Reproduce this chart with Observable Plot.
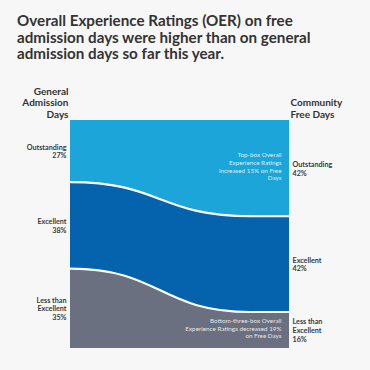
<!DOCTYPE html>
<html>
<head>
<meta charset="utf-8">
<script src="https://cdn.jsdelivr.net/npm/d3@7"></script>
<script src="https://cdn.jsdelivr.net/npm/@observablehq/plot@0.6"></script>
<style>
  html, body { margin: 0; padding: 0; background: #f7f7f7; width: 370px; height: 370px; overflow: hidden; }
  #title { position: absolute; left: 17px; top: 12px; width: 345px; font-family: Lato, sans-serif; font-weight: 700; font-size: 15.2px; line-height: 16.7px; color: #333; }
  #chart { position: absolute; left: 0; top: 80px; }
</style>
</head>
<body>
<div id="title">Overall Experience Ratings (OER) on free admission days were higher than on general admission days so far this year.</div>
<div id="chart"></div>
<script>
const categories = ["Outstanding", "Excellent", "Less than Excellent"];
const generalAdmission = [27, 38, 35];
const communityFree = [42, 42, 16];
const groupLabels = ["General\nAdmission\nDays", "Community\nFree Days"];
const categoryLabels = ["Outstanding", "Excellent", "Less than\nExcellent"];
const colors = ["#1ba5d8", "#0563ad", "#6a7080"];
const notes = ["Top-box Overall\nExperience Ratings\nincreased 15% on Free\nDays", "", "Bottom-three-box Overall\nExperience Ratings decreased 19%\non Free Days"];

// flow layout: left edge (0), end of transition, right edge (1)
const xLeft = 0, xTurn = 0.82, xRight = 1;
const flow = [];
categories.forEach((c, i) => {
  flow.push({cat: c, x: xLeft, v: generalAdmission[i]});
  flow.push({cat: c, x: xTurn, v: communityFree[i]});
  flow.push({cat: c, x: xRight, v: communityFree[i]});
});
const leftRows = categories.map((c, i) => ({cat: c, x: xLeft, v: generalAdmission[i], label: categoryLabels[i] + "\n" + generalAdmission[i] + "%"}));
const rightRows = categories.map((c, i) => ({cat: c, x: xRight, v: communityFree[i], label: categoryLabels[i] + "\n" + communityFree[i] + "%", note: notes[i]}));

const font = "Lato, sans-serif";
const chart = Plot.plot({
  width: 370,
  height: 290,
  marginLeft: 70,
  marginRight: 81,
  marginTop: 40,
  marginBottom: 22,
  style: {background: "transparent", fontFamily: font},
  x: {domain: [0, 1], axis: null},
  y: {domain: [0, 100], reverse: true, axis: null},
  color: {domain: categories, range: colors},
  marks: [
    Plot.areaY(flow, {x: "x", y: "v", fill: "cat", z: "cat", order: categories, curve: "bump-x"}),
    Plot.lineY(flow, Plot.stackY2({x: "x", y: "v", z: "cat", order: categories, curve: "bump-x", stroke: "white", strokeWidth: 2.2,
      filter: d => d.cat !== categories[categories.length - 1]})),
    Plot.text(leftRows, Plot.stackY({x: "x", y: "v", z: "cat", order: categories, text: "label", textAnchor: "end", dx: -4,
      fontSize: 7.2, fontWeight: 700, fill: "#3a3a3a", lineHeight: 1.22})),
    Plot.text(rightRows, Plot.stackY({x: "x", y: "v", z: "cat", order: categories, text: "label", textAnchor: "start", dx: 3,
      fontSize: 7.2, fontWeight: 700, fill: "#3a3a3a", lineHeight: 1.22})),
    Plot.text(rightRows, Plot.stackY({x: "x", y: "v", z: "cat", order: categories, text: "note", textAnchor: "end", dx: -8, dy: -2,
      fontSize: 6.3, fill: "white", fillOpacity: 0.85, lineHeight: 1.22})),
    Plot.text([groupLabels[0]], {x: xLeft, frameAnchor: "top", text: d => d, textAnchor: "end", lineAnchor: "bottom", dx: -2, dy: -3,
      fontSize: 10, fontWeight: 700, fill: "#333", lineHeight: 1.15}),
    Plot.text([groupLabels[1]], {x: xRight, frameAnchor: "top", text: d => d, textAnchor: "start", lineAnchor: "bottom", dx: 1, dy: -3,
      fontSize: 10, fontWeight: 700, fill: "#333", lineHeight: 1.15})
  ]
});
document.getElementById("chart").appendChild(chart);
</script>
</body>
</html>
